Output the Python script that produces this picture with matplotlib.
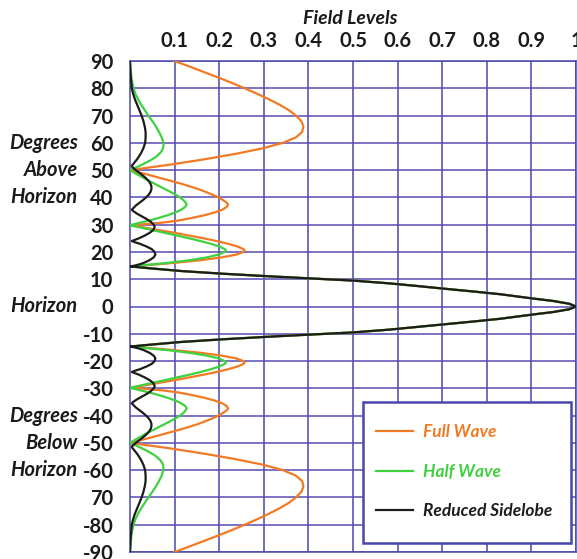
import matplotlib
matplotlib.use("Agg")
import matplotlib.pyplot as plt
from matplotlib.patches import Rectangle
import numpy as np

# upper half (0..90 deg); the pattern is mirrored below the horizon
full_ang = [90, 88, 86, 84, 82, 80, 78, 76, 74, 72, 70, 68, 66, 64, 62, 60, 58, 56, 54, 52, 50,
            49, 48, 47, 46, 45, 44, 43, 42, 41, 40, 39, 38, 37.4, 36.5, 35.5, 34.5, 33.5, 32.5, 31.5, 30.7, 30.2, 29.8,
            29, 28, 27, 26, 25, 24, 23, 22, 21, 20.5, 20, 19, 18, 17, 16, 15.3, 14.7,
            14, 13, 12, 11, 10.5, 10, 9.5, 8.5, 7.5, 6.6, 5.5, 4.5, 3, 2, 1, 0]
full_val = [0.100, 0.133, 0.165, 0.197, 0.228, 0.257, 0.285, 0.311, 0.335, 0.356, 0.372, 0.384, 0.389, 0.386, 0.372, 0.343, 0.298, 0.238, 0.168, 0.090, 0.000,
            0.024, 0.048, 0.070, 0.093, 0.115, 0.135, 0.154, 0.170, 0.185, 0.198, 0.209, 0.217, 0.220, 0.217, 0.207, 0.190, 0.168, 0.140, 0.108, 0.070, 0.035, 0.000,
            0.030, 0.065, 0.100, 0.133, 0.165, 0.194, 0.220, 0.241, 0.255, 0.257, 0.254, 0.238, 0.205, 0.160, 0.100, 0.050, 0.000,
            0.045, 0.115, 0.210, 0.320, 0.380, 0.440, 0.500, 0.580, 0.645, 0.700, 0.770, 0.830, 0.900, 0.950, 0.985, 1.000]

half_ang = [90, 88, 86, 84, 82, 80, 78, 76, 74, 72, 70, 68, 66, 64, 62, 60, 59, 58, 57, 56, 55, 54, 53, 52, 51, 50,
            49, 48, 47, 46, 45, 44, 43, 42, 41, 40, 39, 38, 37.4, 36.5, 35.5, 34.5, 33.5, 32.5, 31.5, 30.7, 29.8,
            29, 28, 27, 26, 25, 24, 23, 22, 21, 20.5, 20, 19, 18, 17, 16, 15.3, 14.7,
            14, 13, 12, 11, 10.5, 10, 9.5, 8.5, 7.5, 6.6, 5.5, 4.5, 3, 2, 1, 0]
half_val = [0.000, 0.001, 0.002, 0.003, 0.005, 0.008, 0.012, 0.018, 0.025, 0.033, 0.041, 0.050, 0.058, 0.065, 0.071, 0.075, 0.075, 0.074, 0.071, 0.066, 0.059, 0.050, 0.039, 0.027, 0.014, 0.000,
            0.010, 0.021, 0.032, 0.043, 0.055, 0.067, 0.079, 0.091, 0.102, 0.112, 0.120, 0.125, 0.127, 0.124, 0.115, 0.102, 0.085, 0.065, 0.043, 0.022, 0.000,
            0.022, 0.050, 0.078, 0.106, 0.133, 0.158, 0.181, 0.200, 0.213, 0.215, 0.212, 0.198, 0.172, 0.135, 0.085, 0.040, 0.000,
            0.045, 0.115, 0.210, 0.320, 0.380, 0.440, 0.500, 0.580, 0.645, 0.700, 0.770, 0.830, 0.900, 0.950, 0.985, 1.000]

low_ang = [90, 86, 82, 80, 78, 76, 74, 72, 70, 68, 66, 64, 62, 60, 58, 56, 54, 53, 52, 51.5,
           51, 50, 49, 48, 47, 46, 45, 44, 43, 42, 41, 40, 39, 38, 37, 36, 35.5,
           35, 34, 33, 32, 31, 30, 29.5, 29, 28, 27, 26, 25, 24.5, 24,
           23.5, 23, 22, 21, 20, 19, 18, 17, 16, 15.5, 15, 14.7,
           14, 13, 12, 11, 10.5, 10, 9.5, 8.5, 7.5, 6.6, 5.5, 4.5, 3, 2, 1, 0]
low_val = [0.000, 0.001, 0.003, 0.004, 0.007, 0.011, 0.016, 0.021, 0.026, 0.030, 0.033, 0.035, 0.035, 0.034, 0.030, 0.024, 0.016, 0.011, 0.006, 0.004,
           0.006, 0.013, 0.021, 0.029, 0.036, 0.042, 0.046, 0.048, 0.048, 0.046, 0.042, 0.036, 0.029, 0.021, 0.013, 0.007, 0.004,
           0.007, 0.016, 0.027, 0.038, 0.047, 0.053, 0.055, 0.055, 0.052, 0.044, 0.033, 0.020, 0.012, 0.004,
           0.012, 0.022, 0.037, 0.049, 0.055, 0.057, 0.053, 0.044, 0.031, 0.022, 0.011, 0.000,
           0.045, 0.115, 0.210, 0.320, 0.380, 0.440, 0.500, 0.580, 0.645, 0.700, 0.770, 0.830, 0.900, 0.950, 0.985, 1.000]

x_ticks = [0.1, 0.2, 0.3, 0.4, 0.5, 0.6, 0.7, 0.8, 0.9, 1.0]
x_labels = ["0.1", "0.2", "0.3", "0.4", "0.5", "0.6", "0.7", "0.8", "0.9", "1"]
y_ticks = list(range(90, -91, -10))
y_labels = ["90", "80", "70", "60", "50", "40", "30", "20", "10", "0",
            "-10", "-20", "-30", "-40", "-50", "-60", "70", "-80", "-90"]

side_notes = [(60, "Degrees"), (50, "Above"), (40, "Horizon"), (0, "Horizon"),
              (-40, "Degrees"), (-50, "Below"), (-60, "Horizon")]

series = [("Full Wave", full_ang, full_val, "#f27a24"),
          ("Half Wave", half_ang, half_val, "#3fd13f"),
          ("Reduced Sidelobe", low_ang, low_val, "#1c1c1c")]


def mirror(ang, val):
    a = np.array(ang, dtype=float)
    v = np.array(val, dtype=float)
    return np.concatenate([a, -a[::-1][1:]]), np.concatenate([v, v[::-1][1:]])


W, H = 577, 559
fig = plt.figure(figsize=(W / 100, H / 100), dpi=100)
ax = fig.add_axes([130 / W, 7 / H, 446 / W, 491 / H])

grid_col = "#4848aa"
for x in np.arange(0.1, 1.01, 0.1):
    ax.axvline(x, color=grid_col, lw=1.1, zorder=1)
for y in y_ticks:
    ax.axhline(y, color="#5a4cb4", lw=1.1, zorder=1)

for name, ang, val, col in series:
    a, v = mirror(ang, val)
    ax.plot(v, a, color=col, lw=1.6, label=name, zorder=3, solid_joinstyle="round")

ax.set_xlim(0, 1)
ax.set_ylim(-90, 90)
ax.xaxis.tick_top()
ax.set_xticks(x_ticks)
ax.set_xticklabels(x_labels)
ax.set_yticks(y_ticks)
ax.set_yticklabels(y_labels)
ax.tick_params(length=0)
ax.tick_params(axis="x", pad=7)
ax.tick_params(axis="y", pad=12)
for lab in ax.get_xticklabels() + ax.get_yticklabels():
    lab.set_fontfamily("Lato")
    lab.set_fontweight("bold")
    lab.set_fontsize(14.5)
    lab.set_color("#1a1a1a")
for s in ax.spines.values():
    s.set_color(grid_col)
    s.set_linewidth(1.1)

note_font = dict(family="Lato", weight="bold", style="italic", size=14.5, color="#1a1a1a")
for y, txt in side_notes:
    ax.text(-0.117, y, txt, transform=ax.get_yaxis_transform(), ha="right", va="center", **note_font)

fig.text(350 / W, 1 - 18 / H, "Field Levels", ha="center", va="center",
         family="Lato", weight="bold", style="italic", size=14, color="#1a1a1a")

# legend box drawn separately so the inner padding can differ from the entry layout
box = Rectangle((0.523, 0.018), 0.466, 0.288, transform=ax.transAxes, facecolor="white",
                edgecolor=grid_col, lw=1.8, zorder=4)
ax.add_patch(box)
leg = ax.legend(loc="upper left", bbox_to_anchor=(0.552, 0.26),
                prop=dict(family="Lato", weight="bold", style="italic", size=12.5),
                labelcolor=["#f27a24", "#3fd13f", "#1c1c1c"], frameon=False,
                handlelength=2.1, handletextpad=0.6, labelspacing=1.35, borderpad=0,
                borderaxespad=0)
leg.set_zorder(5)

fig.savefig("out.png", dpi=100)
